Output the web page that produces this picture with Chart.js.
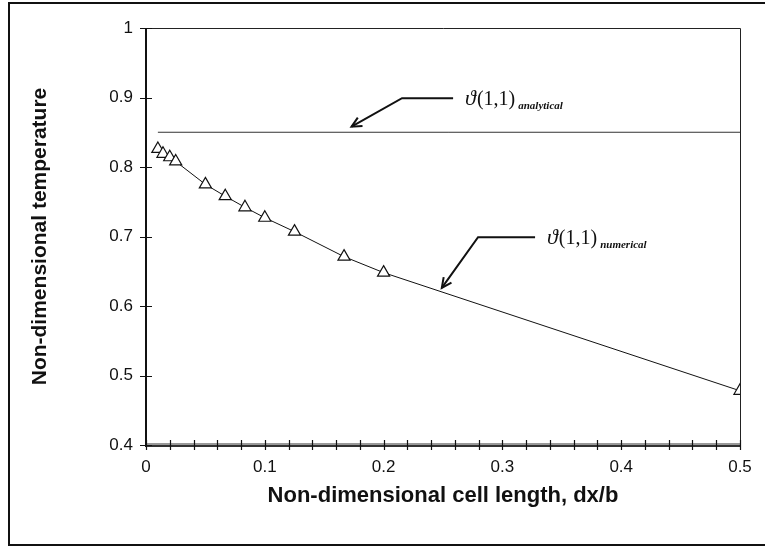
<!DOCTYPE html>
<html>
<head>
<meta charset="utf-8">
<script src="https://cdn.jsdelivr.net/npm/chart.js@4/dist/chart.umd.min.js"></script>
<style>
  html, body { margin: 0; padding: 0; background: #fff; }
  #wrap { width: 765px; height: 547px; }
</style>
</head>
<body>
<div id="wrap"><canvas id="chart" width="765" height="547"></canvas></div>
<script>
// cell length dx/b and computed temperature at (1,1)
const cellLength = [0.01, 0.0143, 0.02, 0.025, 0.05, 0.0667, 0.0833, 0.1, 0.125, 0.1667, 0.2, 0.5];
const numericalTemp = [0.826, 0.819, 0.814, 0.808, 0.775, 0.758, 0.742, 0.727, 0.707, 0.671, 0.648, 0.478];

// analytical solution, drawn as a flat line
const analyticalX = [0.01, 0.5];
const analyticalTemp = [0.85, 0.85];

// axis ranges / steps
const xRange = [0, 0.5];
const xMinorStep = 0.02;
const yRange = [0.4, 1];
const yStep = 0.1;

// callouts: tip, elbow, end of the leader line, then the label (data units)
const callouts = [
  { tip: [0.173, 0.858], elbow: [0.2155, 0.899], end: [0.2585, 0.899], main: '\u03D1(1,1)', sub: 'analytical' },
  { tip: [0.249, 0.626], elbow: [0.2795, 0.699], end: [0.3275, 0.699], main: '\u03D1(1,1)', sub: 'numerical' }
];

const toPoints = (xs, ys) => xs.map((x, i) => ({ x: x, y: ys[i] }));
const isMajor = v => Math.abs(v * 10 - Math.round(v * 10)) < 1e-6;

const decorPlugin = {
  id: 'decor',
  afterDraw(chart) {
    const ctx = chart.ctx;
    const a = chart.chartArea;
    const xs = chart.scales.x, ys = chart.scales.y;
    ctx.save();

    // outer frame
    ctx.strokeStyle = '#111';
    ctx.lineWidth = 2;
    ctx.strokeRect(9, 3, 800, 542);

    // plot box: top/right thin
    ctx.lineWidth = 1;
    ctx.strokeStyle = '#222';
    ctx.beginPath();
    ctx.moveTo(a.left, a.top + 0.5); ctx.lineTo(a.right + 0.5, a.top + 0.5);
    ctx.lineTo(a.right + 0.5, a.bottom);
    ctx.stroke();

    // bottom axis (doubled grey line)
    ctx.strokeStyle = '#999';
    ctx.lineWidth = 4;
    ctx.beginPath(); ctx.moveTo(a.left, a.bottom); ctx.lineTo(a.right, a.bottom); ctx.stroke();
    ctx.strokeStyle = '#111';
    ctx.lineWidth = 1.5;
    ctx.beginPath(); ctx.moveTo(a.left, a.bottom + 1); ctx.lineTo(a.right, a.bottom + 1); ctx.stroke();

    // left axis
    ctx.lineWidth = 2;
    ctx.beginPath(); ctx.moveTo(a.left, a.top); ctx.lineTo(a.left, a.bottom + 2); ctx.stroke();

    // crossing tick marks
    ctx.lineWidth = 1.2;
    ctx.beginPath();
    xs.ticks.forEach(t => {
      const px = Math.round(xs.getPixelForValue(t.value)) + 0.5;
      ctx.moveTo(px, a.bottom - 5); ctx.lineTo(px, a.bottom + 5);
    });
    ys.ticks.forEach(t => {
      const py = Math.round(ys.getPixelForValue(t.value)) + 0.5;
      ctx.moveTo(a.left - 6, py); ctx.lineTo(a.left + 6, py);
    });
    ctx.stroke();

    // callouts
    callouts.forEach(c => {
      const P = p => [xs.getPixelForValue(p[0]), ys.getPixelForValue(p[1])];
      const tip = P(c.tip), elbow = P(c.elbow), end = P(c.end);
      ctx.strokeStyle = '#111';
      ctx.lineWidth = 2;
      ctx.beginPath();
      ctx.moveTo(end[0], end[1]); ctx.lineTo(elbow[0], elbow[1]); ctx.lineTo(tip[0], tip[1]);
      ctx.stroke();
      const ang = Math.atan2(tip[1] - elbow[1], tip[0] - elbow[0]);
      const L = 11;
      ctx.beginPath();
      ctx.moveTo(tip[0] - L * Math.cos(ang - 0.45), tip[1] - L * Math.sin(ang - 0.45));
      ctx.lineTo(tip[0], tip[1]);
      ctx.lineTo(tip[0] - L * Math.cos(ang + 0.45), tip[1] - L * Math.sin(ang + 0.45));
      ctx.stroke();

      ctx.fillStyle = '#111';
      ctx.textBaseline = 'alphabetic';
      ctx.textAlign = 'left';
      const tx = end[0] + 12, ty = end[1] + 7;
      ctx.font = 'italic 22px "Liberation Serif", "DejaVu Serif", serif';
      ctx.fillText(c.main.charAt(0), tx, ty);
      let w = ctx.measureText(c.main.charAt(0)).width;
      ctx.font = '20px "Liberation Serif", "DejaVu Serif", serif';
      ctx.fillText(c.main.slice(1), tx + w + 1, ty);
      w += 1 + ctx.measureText(c.main.slice(1)).width;
      ctx.font = 'italic bold 11px "Liberation Serif", "DejaVu Serif", serif';
      ctx.fillText(c.sub, tx + w + 3, ty + 4);
    });

    ctx.restore();
  }
};

new Chart(document.getElementById('chart'), {
  type: 'scatter',
  data: {
    datasets: [
      {
        label: 'analytical',
        data: toPoints(analyticalX, analyticalTemp),
        showLine: true,
        borderColor: '#333',
        borderWidth: 1,
        pointRadius: 0
      },
      {
        label: 'numerical',
        data: toPoints(cellLength, numericalTemp),
        showLine: true,
        borderColor: '#111',
        borderWidth: 1,
        pointStyle: 'triangle',
        pointRadius: 7,
        pointBackgroundColor: '#fff',
        pointBorderColor: '#111',
        pointBorderWidth: 1.2
      }
    ]
  },
  options: {
    responsive: false,
    animation: false,
    devicePixelRatio: 1,
    layout: { padding: { top: 28, right: 25, left: 0, bottom: 0 } },
    plugins: { legend: { display: false }, tooltip: { enabled: false } },
    scales: {
      x: {
        type: 'linear',
        min: xRange[0], max: xRange[1],
        afterFit: s => { s.height = 102; },
        grid: { display: false, drawTicks: false },
        border: { display: false },
        ticks: {
          stepSize: xMinorStep,
          autoSkip: false,
          maxRotation: 0,
          padding: 12,
          color: '#111',
          font: { family: '"Liberation Sans", Arial, sans-serif', size: 17 },
          callback: v => isMajor(v) ? String(+v.toFixed(1)) : ''
        },
        title: {
          display: true,
          text: 'Non-dimensional cell length, dx/b',
          color: '#111',
          font: { family: '"Liberation Sans", Arial, sans-serif', size: 22, weight: 'bold' },
          padding: { top: 0, bottom: 38 }
        }
      },
      y: {
        type: 'linear',
        min: yRange[0], max: yRange[1],
        afterFit: s => { s.width = 146; },
        grid: { display: false, drawTicks: false },
        border: { display: false },
        ticks: {
          stepSize: yStep,
          padding: 13,
          color: '#111',
          font: { family: '"Liberation Sans", Arial, sans-serif', size: 17 },
          callback: v => String(+v.toFixed(1))
        },
        title: {
          display: true,
          text: 'Non-dimensional temperature',
          color: '#111',
          font: { family: '"Liberation Sans", Arial, sans-serif', size: 21, weight: 'bold' },
          padding: { top: 28, bottom: 0 }
        }
      }
    }
  },
  plugins: [decorPlugin]
});
</script>
</body>
</html>
